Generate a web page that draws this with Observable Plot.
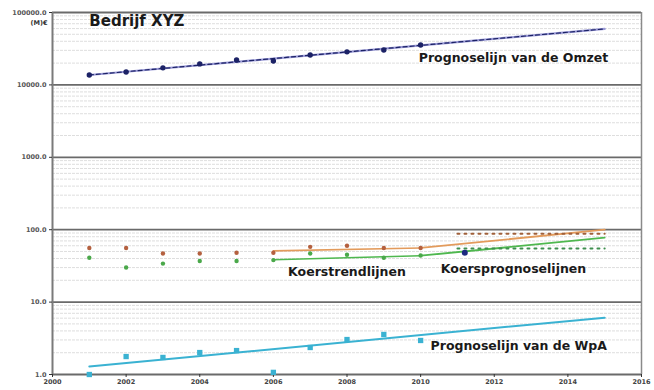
<!DOCTYPE html>
<html>
<head>
<meta charset="utf-8">
<script src="https://cdn.jsdelivr.net/npm/d3@7"></script>
<script src="https://cdn.jsdelivr.net/npm/@observablehq/plot@0.6"></script>
<style>
  html, body { margin: 0; padding: 0; background: #fff; }
  #chart { width: 654px; height: 390px; }
</style>
</head>
<body>
<div id="chart"></div>
<script>
// ---- data ----
const years = [2001, 2002, 2003, 2004, 2005, 2006, 2007, 2008, 2009, 2010];
const omzet = [13700, 15100, 17200, 19500, 22100, 21400, 25900, 28600, 30400, 35600];
const koersHoog = [56, 56, 47, 47, 48, 48, 58, 60, 56, 56];
const koersLaag = [41, 30, 34, 37, 37, 38, 47, 45, 41, 44];
const wpa = [1.0, 1.77, 1.72, 2.01, 2.14, 1.07, 2.36, 3.04, 3.57, 2.95];

const omzetTrendYears = [2001, 2015];
const omzetTrend = [13700, 59300];
const wpaTrendYears = [2001, 2015];
const wpaTrend = [1.29, 6.1];

const koersTrendYears = [2006, 2010];
const koersTrendHoog = [51, 56];
const koersTrendLaag = [38.5, 43.7];
const koersPrognoseYears = [2010, 2015];
const koersPrognoseHoog = [56, 100];
const koersPrognoseLaag = [43.7, 77.5];

const koersStippelYears = [2011, 2015];
const koersStippelHoog = [88, 88];
const koersStippelLaag = [55, 55];

const koersActueelJaar = [2011.2];
const koersActueel = [48];

const xTicks = [2000, 2002, 2004, 2006, 2008, 2010, 2012, 2014, 2016];
const yTicks = [1, 10, 100, 1000, 10000, 100000];
const yMinor = [];
for (const d of [1, 10, 100, 1000, 10000]) for (let m = 2; m <= 9; m++) yMinor.push(d * m);

const labels = [
  {x: 2001.0, y: 76000, text: "Bedrijf XYZ", size: 15},
  {x: 2009.95, y: 23600, text: "Prognoselijn van de Omzet", size: 12.5},
  {x: 2006.4, y: 26.3, text: "Koerstrendlijnen", size: 12.5},
  {x: 2010.55, y: 28.9, text: "Koersprognoselijnen", size: 12.5},
  {x: 2010.27, y: 2.44, text: "Prognoselijn van de WpA", size: 12.5}
];

// ---- build tables ----
const pts = (xs, ys) => xs.map((x, i) => ({x, y: ys[i]}));

const chart = Plot.plot({
  width: 654,
  height: 390,
  marginLeft: 52,
  marginRight: 13,
  marginTop: 12,
  marginBottom: 16,
  style: {fontFamily: "DejaVu Sans, sans-serif", fontSize: "7px", color: "#333", background: "#fff"},
  x: {domain: [2000, 2016], label: null},
  y: {type: "log", domain: [1, 100000], label: null},
  marks: [
    Plot.gridY(yMinor, {stroke: "#d6d6d6", strokeOpacity: 1, strokeWidth: 0.8, strokeDasharray: "3,1"}),
    Plot.gridY(yTicks, {stroke: "#6a6a6a", strokeOpacity: 1, strokeWidth: 1.8}),
    Plot.ruleX([2000], {stroke: "#7a7a7a", strokeWidth: 2}),
    Plot.ruleX([2016], {stroke: "#8a8a8a", strokeWidth: 1.5}),
    Plot.axisX(xTicks, {tickFormat: d => String(d), tickSize: 3, tickPadding: 2, fontWeight: "bold", fill: "#444", fontSize: 6.5}),
    Plot.axisY(yTicks, {tickFormat: d => d.toFixed(1), tickSize: 3, tickPadding: 3, fontWeight: "bold", fill: "#555", fontSize: 6.5}),

    // Omzet
    Plot.line(pts(omzetTrendYears, omzetTrend), {x: "x", y: "y", stroke: "#9a9ad6", strokeWidth: 2.2}),
    Plot.line(pts(omzetTrendYears, omzetTrend), {x: "x", y: "y", stroke: "#1c2266", strokeWidth: 1.2, strokeDasharray: "4,3"}),
    Plot.dot(pts(years, omzet), {x: "x", y: "y", r: 2.7, fill: "#1c2266", symbol: "circle"}),

    // Koers trend lines
    Plot.line(pts(koersTrendYears, koersTrendHoog), {x: "x", y: "y", stroke: "#e39b5c", strokeWidth: 1.6}),
    Plot.line(pts(koersTrendYears, koersTrendLaag), {x: "x", y: "y", stroke: "#4fb84f", strokeWidth: 1.6}),
    Plot.line(pts(koersPrognoseYears, koersPrognoseHoog), {x: "x", y: "y", stroke: "#e39b5c", strokeWidth: 1.8}),
    Plot.line(pts(koersPrognoseYears, koersPrognoseLaag), {x: "x", y: "y", stroke: "#4fb84f", strokeWidth: 1.8}),
    Plot.line(pts(koersStippelYears, koersStippelHoog), {x: "x", y: "y", stroke: "#a0603a", strokeWidth: 2, strokeDasharray: "2,5"}),
    Plot.line(pts(koersStippelYears, koersStippelLaag), {x: "x", y: "y", stroke: "#3f8f4f", strokeWidth: 2, strokeDasharray: "2,5"}),
    Plot.dot(pts(years, koersHoog), {x: "x", y: "y", r: 2.2, fill: "#b4603f"}),
    Plot.dot(pts(years, koersLaag), {x: "x", y: "y", r: 2.2, fill: "#4aa84a"}),
    Plot.dot(pts(koersActueelJaar, koersActueel), {x: "x", y: "y", r: 3, fill: "#1c2a80"}),

    // WpA
    Plot.line(pts(wpaTrendYears, wpaTrend), {x: "x", y: "y", stroke: "#3ab2d2", strokeWidth: 2}),
    Plot.dot(pts(years, wpa), {x: "x", y: "y", r: 3, fill: "#3ab2d2", symbol: "square"}),

    // labels
    Plot.text(labels, {x: "x", y: "y", text: "text", textAnchor: "start", fontWeight: "bold", fontSize: d => d.size, fill: "#1a1a1a"}),
    Plot.text([{x: 2000, y: 72700}], {x: "x", y: "y", text: () => "(M)€", textAnchor: "end", dx: -5, fontWeight: "bold", fontSize: 6.5, fill: "#333"})
  ]
});

document.getElementById("chart").appendChild(chart);
</script>
</body>
</html>
